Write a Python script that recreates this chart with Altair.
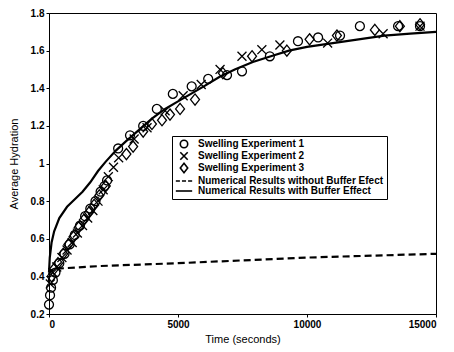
import altair as alt
import pandas as pd

# ---- data ----
exp1_t = [0, 40, 80, 150, 250, 400, 600, 800, 1000, 1200, 1400, 1600, 1800, 2000, 2150, 2250,
          2680, 3140, 3650, 4180, 4800, 5530, 6170, 6900, 7480, 8560, 9650, 10430, 11280, 12050, 13530, 14380]
exp1_v = [0.25, 0.30, 0.34, 0.38, 0.42, 0.47, 0.52, 0.57, 0.62, 0.67, 0.72, 0.76, 0.80, 0.85, 0.88, 0.91,
          1.08, 1.15, 1.20, 1.29, 1.37, 1.41, 1.45, 1.47, 1.49, 1.57, 1.65, 1.67, 1.68, 1.73, 1.73, 1.73]

exp2_t = [50, 150, 300, 500, 700, 900, 1100, 1300, 1500, 1700, 1900, 2100, 2300, 2500, 2700,
          3300, 3800, 4500, 5200, 5900, 6630, 7480, 8250, 8950, 10800, 12950, 14380]
exp2_v = [0.36, 0.42, 0.45, 0.50, 0.54, 0.58, 0.63, 0.67, 0.71, 0.75, 0.80, 0.86, 0.93, 0.98, 1.03,
          1.13, 1.19, 1.28, 1.36, 1.42, 1.50, 1.57, 1.605, 1.63, 1.64, 1.69, 1.73]

exp3_t = [100, 200, 350, 550, 750, 950, 1150, 1350, 1550, 1750, 1950, 2200, 3000, 3260, 3650,
          3990, 4380, 4690, 5080, 5660, 6740, 7870, 9220, 10100, 11160, 12630, 13600, 14380]
exp3_v = [0.40, 0.44, 0.47, 0.52, 0.57, 0.61, 0.66, 0.70, 0.74, 0.78, 0.83, 0.88, 1.05, 1.09, 1.17,
          1.21, 1.23, 1.26, 1.29, 1.34, 1.48, 1.57, 1.60, 1.66, 1.68, 1.71, 1.73, 1.74]

nobuf_t = [0, 50, 200, 2000, 5000, 7500, 10000, 12500, 15000]
nobuf_v = [0.41, 0.43, 0.44, 0.455, 0.47, 0.485, 0.50, 0.51, 0.52]

buf_t = [0, 30, 100, 200, 400, 700, 1000, 1300, 1600, 1900, 2200, 2600, 3000, 3500, 4000, 4500,
         5000, 5500, 6000, 6600, 7200, 7900, 8600, 9300, 10000, 11000, 12000, 13000, 14000, 15000]
buf_v = [0.42, 0.50, 0.58, 0.64, 0.71, 0.77, 0.81, 0.85, 0.90, 0.96, 1.01, 1.07, 1.12, 1.18, 1.24, 1.29,
         1.33, 1.37, 1.41, 1.46, 1.50, 1.54, 1.57, 1.60, 1.62, 1.64, 1.66, 1.68, 1.69, 1.70]

series_names = [
    "Swelling Experiment 1",
    "Swelling Experiment 2",
    "Swelling Experiment 3",
    "Numerical Results without Buffer Efect",
    "Numerical Results with Buffer Effect",
]
x_ticks = [0, 5000, 10000, 15000]
y_ticks = [0.2, 0.4, 0.6, 0.8, 1.0, 1.2, 1.4, 1.6, 1.8]

# ---- tables ----
pts = pd.concat([
    pd.DataFrame({"t": exp1_t, "v": exp1_v, "series": series_names[0]}),
    pd.DataFrame({"t": exp2_t, "v": exp2_v, "series": series_names[1]}),
    pd.DataFrame({"t": exp3_t, "v": exp3_v, "series": series_names[2]}),
])
nobuf = pd.DataFrame({"t": nobuf_t, "v": nobuf_v, "series": series_names[3]})
buf = pd.DataFrame({"t": buf_t, "v": buf_v, "series": series_names[4]})

FONT = "Liberation Sans"
shapes = [
    "circle",
    "M-1,-1L1,1M-1,1L1,-1",
    "M0,-1.25L1,0L0,1.25L-1,0Z",
    "M-2.2,0H-1.1M-0.55,0H0.55M1.1,0H2.2",
    "M-2.2,0H2.2",
]

xs = alt.X("t:Q", scale=alt.Scale(domain=[0, 15000], nice=False),
           axis=alt.Axis(values=x_ticks, format="d", title="Time (seconds)", grid=False,
                         tickSize=3, labelFontWeight="bold", titlePadding=4))
ys = alt.Y("v:Q", scale=alt.Scale(domain=[0.2, 1.8], nice=False),
           axis=alt.Axis(values=y_ticks, format="~g", title="Average Hydration", grid=False,
                         tickSize=3, labelFontWeight="bold", titlePadding=11))

points = alt.Chart(pts).mark_point(filled=False, strokeWidth=1.3, size=80, color="black", opacity=1).encode(
    x=xs, y=ys,
    shape=alt.Shape("series:N", scale=alt.Scale(domain=series_names, range=shapes),
                    legend=alt.Legend(title=None, orient="none", legendX=123, legendY=123,
                                      strokeColor="black", fillColor="white", padding=3,
                                      labelFont=FONT, labelFontSize=10, labelFontWeight="bold",
                                      symbolSize=55, symbolStrokeWidth=1.6, symbolStrokeColor="black",
                                      symbolOffset=4, labelOffset=9, rowPadding=-3,
                                      labelLimit=300)),
)
dashed = alt.Chart(nobuf).mark_line(color="black", strokeWidth=2.2, strokeDash=[7, 4]).encode(x=xs, y=ys)
solid = alt.Chart(buf).mark_line(color="black", strokeWidth=2.2).encode(x=xs, y=ys)

chart = alt.layer(dashed, solid, points).properties(
    width=387, height=301,
    autosize=alt.AutoSizeParams(type="none"),
    padding={"left": 41, "top": 5, "right": 10, "bottom": 36},
    background="white",
).configure_view(stroke="black", strokeWidth=1).configure_axis(
    labelFont=FONT, titleFont=FONT, labelFontSize=10, titleFontSize=11, titleFontWeight="normal",
    labelColor="black", titleColor="black", domainColor="black", tickColor="black",
)

chart.save("out.html", embed_options={"renderer": "svg", "actions": False})
